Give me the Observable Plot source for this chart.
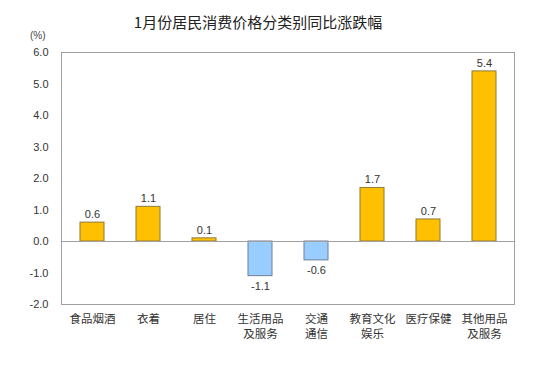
<!DOCTYPE html>
<html>
<head>
<meta charset="utf-8">
<script src="https://cdn.jsdelivr.net/npm/d3@7"></script>
<script src="https://cdn.jsdelivr.net/npm/@observablehq/plot@0.6"></script>
<style>
  body { margin: 0; background: #fff; font-family: "Liberation Sans", "Noto Sans CJK SC", sans-serif; }
  #wrap { position: relative; width: 546px; height: 366px; }
  #title { position: absolute; left: 0; width: 516px; top: 11px; text-align: center; font-size: 15px; color: #222; font-family: "Noto Sans CJK SC", sans-serif; }
  #unit { position: absolute; left: 30px; top: 30px; font-size: 10px; color: #444; }
</style>
</head>
<body>
<div id="wrap">
  <div id="title">1月份居民消费价格分类别同比涨跌幅</div>
  <div id="unit">(%)</div>
  <div id="chart"></div>
</div>
<script>
const categories = ["食品烟酒", "衣着", "居住", "生活用品\n及服务", "交通\n通信", "教育文化\n娱乐", "医疗保健", "其他用品\n及服务"];
const values = [0.6, 1.1, 0.1, -1.1, -0.6, 1.7, 0.7, 5.4];
const yTicks = [-2, -1, 0, 1, 2, 3, 4, 5, 6];

const data = categories.map((c, i) => ({category: c, value: values[i]}));

const chart = Plot.plot({
  width: 546,
  height: 366,
  marginTop: 52,
  marginBottom: 62,
  marginLeft: 61,
  marginRight: 32,
  style: {fontFamily: "'Liberation Sans', 'Noto Sans CJK SC', sans-serif", fontSize: "11px", color: "#333", background: "#fff"},
  x: {domain: categories, paddingInner: 0.576, paddingOuter: 0.288, label: null},
  y: {domain: [-2, 6], label: null},
  marks: [
    Plot.axisY({ticks: yTicks, tickFormat: d => d.toFixed(1), tickSize: 0, tickPadding: 13, label: null, fontSize: 11}),
    Plot.axisX({tickSize: 0, tickPadding: 8, label: null, fontSize: 11.5, fontFamily: "'Noto Sans CJK SC', sans-serif", lineHeight: 1.3}),
    Plot.frame({stroke: "#a0a0a0"}),
    Plot.barY(data, {x: "category", y: "value", fill: d => d.value >= 0 ? "#FFC000" : "#99CCFF", stroke: d => d.value >= 0 ? "#8c7a3a" : "#6f7f95", strokeWidth: 1}),
    Plot.ruleY([0], {stroke: "#a0a0a0"}),
    Plot.text(data.filter(d => d.value >= 0), {x: "category", y: "value", text: d => d.value.toFixed(1), dy: -8, fontSize: 11, fill: "#333"}),
    Plot.text(data.filter(d => d.value < 0), {x: "category", y: "value", text: d => d.value.toFixed(1), dy: 10, fontSize: 11, fill: "#333"})
  ]
});
document.getElementById("chart").appendChild(chart);
</script>
</body>
</html>
